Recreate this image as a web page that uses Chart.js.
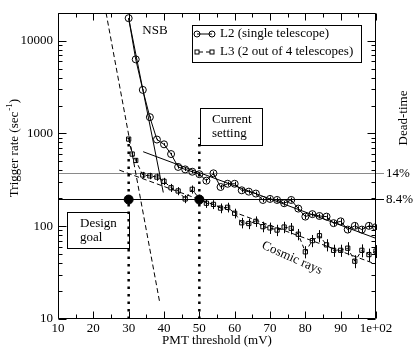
<!DOCTYPE html>
<html><head><meta charset="utf-8">
<script src="https://cdn.jsdelivr.net/npm/chart.js@4.4.0/dist/chart.umd.min.js"></script>
<style>html,body{margin:0;padding:0;background:#fff;}canvas{display:block;}</style>
</head><body>
<canvas id="c" width="415" height="350"></canvas>
<script>
// ---- data ----
const l2X = [30,32,34,36,38,40,42,44,46,48,50,52,54,56,58,60,62,64,66,68,70,72,74,76,78,80,82,84,86,88,90,92,94,96,98,100];
const l2Y = [17500,6300,2950,1500,860,764,600,436,410,387,364,310,372,265,287,287,244,236,225,192,197,192,177,192,155,127,135,129,127,108,113,92,101,92,101,98];
const l2Err = [0.01,0.01,0.01,0.02,0.02,0.03,0.03,0.04,0.04,0.04,0.04,0.05,0.05,0.05,0.05,0.05,0.05,0.05,0.05,0.05,0.06,0.06,0.06,0.06,0.06,0.06,0.06,0.06,0.06,0.07,0.07,0.07,0.07,0.07,0.07,0.07];
const l3X = [30,31,32,34,36,38,40,42,44,46,48,50,52,54,56,58,60,62,64,66,68,70,72,74,76,78,80,82,84,86,88,90,92,94,96,98,100];
const l3Y = [870,600,512,357,349,339,305,260,240,197,250,197,177,172,157,160,138,109,107,113,99,96,91,98,95,82,53,70,79,63,55,55,58,42,55,49.5,54];
const l3Err = [0.05,0.06,0.06,0.08,0.08,0.09,0.09,0.1,0.1,0.1,0.1,0.11,0.11,0.11,0.12,0.12,0.12,0.13,0.13,0.13,0.13,0.14,0.14,0.14,0.14,0.14,0.15,0.15,0.15,0.15,0.15,0.15,0.16,0.16,0.16,0.16,0.16];
const nsbFitL2X = [30, 39.8];
const nsbFitL2Y = [17500, 231];
const nsbFitL3X = [23.6, 38.7];
const nsbFitL3Y = [20000, 15.7];
const crFitL2X = [34.1, 100];
const crFitL2Y = [636, 74];
const crFitL3X = [27.35, 100];
const crFitL3Y = [403, 39];
const markX = [30, 50];          // design goal, current setting
const markY = [194, 194];
const markTopY = 900;            // top of the dotted guide lines
const deadVals = [371, 194];
const deadLabels = ['14%', '8.4%'];
const xTickVals = [10,20,30,40,50,60,70,80,90,100];
const xTickLabels = ['10','20','30','40','50','60','70','80','90','1e+02'];
const yTickVals = [10,100,1000,10000];
const yTickLabels = ['10','100','1000','10000'];

const FONT = "'Liberation Serif','Times New Roman',serif";
const FS = 13;
const pts = (xs, ys) => xs.map((x,i)=>({x:x, y:ys[i]}));

const decor = {
  id:'decor',
  beforeDraw(chart){
    const c=chart.ctx; c.save(); c.fillStyle='#fff'; c.fillRect(0,0,chart.width,chart.height); c.restore();
  },
  afterDatasetsDraw(chart){
    const c=chart.ctx, ys=chart.scales.y;
    c.save(); c.strokeStyle='#000'; c.lineWidth=1;
    [[0,l2Y,l2Err],[1,l3Y,l3Err]].forEach(([di,vals,errs])=>{
      const meta=chart.getDatasetMeta(di);
      meta.data.forEach((p,i)=>{
        const v=vals[i], e=errs[i];
        const top=ys.getPixelForValue(v*(1+e)), bot=ys.getPixelForValue(v*(1-e));
        const px=Math.round(p.x)+0.5;
        c.beginPath(); c.moveTo(px,top); c.lineTo(px,bot); c.stroke();
      });
    });
    c.restore();
  },
  afterDraw(chart){
    const c=chart.ctx, a=chart.chartArea, x=chart.scales.x, y=chart.scales.y;
    c.save();
    c.strokeStyle='#000'; c.lineWidth=1;
    const L=Math.round(a.left)+0.5, R=Math.round(a.right)-0.5, T=Math.round(a.top)+0.5, B=Math.round(a.bottom)-0.5;
    c.beginPath(); c.rect(L,T,R-L,B-T); c.stroke();
    c.beginPath();
    for(let v=10; v<=100; v+=5){
      const px=Math.round(x.getPixelForValue(v))+0.5, len=(v%10===0)?7:4;
      c.moveTo(px,B); c.lineTo(px,B-len); c.moveTo(px,T); c.lineTo(px,T+len);
    }
    for(let d=10; d<=10000; d*=10){
      for(let k=1;k<=9;k++){
        const v=d*k; if(v>y.max) break;
        const py=Math.round(y.getPixelForValue(v))+0.5, len=(k===1)?8:4;
        c.moveTo(L,py); c.lineTo(L+len,py); c.moveTo(R,py); c.lineTo(R-len,py);
      }
    }
    c.stroke();
    c.fillStyle='#000'; c.font=FS+'px '+FONT; c.textBaseline='middle';
    c.textAlign='center'; c.fillText('NSB',155,31);
    // legend
    c.strokeRect(192.5,25.5,169,37);
    c.textAlign='left';
    c.beginPath(); c.moveTo(197,34); c.lineTo(212,34); c.stroke();
    [197,212].forEach(cx=>{c.beginPath(); c.arc(cx,34,3,0,Math.PI*2); c.stroke();});
    c.fillText('L2 (single telescope)',220,34);
    c.setLineDash([4,3]); c.beginPath(); c.moveTo(199,52); c.lineTo(210,52); c.stroke(); c.setLineDash([]);
    [197,212].forEach(cx=>{c.strokeRect(cx-2,52-2,4,4);});
    c.fillText('L3 (2 out of 4 telescopes)',220,52);
    // Current setting box
    c.strokeRect(200.5,108.5,62,37);
    c.fillText('Current',212,120); c.fillText('setting',212,134);
    // Design goal box
    c.strokeRect(67.5,212.5,62,36);
    c.fillText('Design',80,224); c.fillText('goal',80,238);
    // Cosmic rays
    c.save(); c.translate(292,258); c.rotate(24*Math.PI/180); c.textAlign='center'; c.fillText('Cosmic rays',0,0); c.restore();
    // Dead-time
    c.save(); c.translate(404,118); c.rotate(-Math.PI/2); c.textAlign='center'; c.fillText('Dead-time',0,0); c.restore();
    // y title with superscript
    c.save(); c.translate(15,148); c.rotate(-Math.PI/2);
    const t1='Trigger rate (sec', t2='-1', t3=')';
    c.font=FS+'px '+FONT; const w1=c.measureText(t1).width, w3=c.measureText(t3).width;
    c.font=(FS*0.7)+'px '+FONT; const w2=c.measureText(t2).width;
    let sx=-(w1+w2+w3+1)/2; c.textAlign='left';
    c.font=FS+'px '+FONT; c.fillText(t1,sx,0);
    c.font=(FS*0.7)+'px '+FONT; c.fillText(t2,sx+w1+1,-5);
    c.font=FS+'px '+FONT; c.fillText(t3,sx+w1+w2+1,0);
    c.restore();
    c.restore();
  }
};

new Chart(document.getElementById('c'), {
  type:'line',
  data:{ datasets:[
    {label:'L2 (single telescope)', data:pts(l2X,l2Y), borderColor:'#000', borderWidth:1, pointStyle:'circle', pointRadius:3.5, pointBorderWidth:1, pointBorderColor:'#000', pointBackgroundColor:'rgba(0,0,0,0)', tension:0},
    {label:'L3 (2 out of 4 telescopes)', data:pts(l3X,l3Y), borderColor:'#000', borderWidth:1, borderDash:[4,3], pointStyle:'rect', pointRadius:3, pointBorderWidth:1, pointBorderColor:'#000', pointBackgroundColor:'rgba(0,0,0,0)', tension:0},
    {data:pts(nsbFitL2X,nsbFitL2Y), borderColor:'#000', borderWidth:1, pointRadius:0},
    {data:pts(nsbFitL3X,nsbFitL3Y), borderColor:'#000', borderWidth:1, borderDash:[5,3], pointRadius:0},
    {data:pts(crFitL2X,crFitL2Y), borderColor:'#000', borderWidth:1, pointRadius:0},
    {data:pts(crFitL3X,crFitL3Y), borderColor:'#000', borderWidth:1, borderDash:[5,3], pointRadius:0},
    {data:[{x:markX[0],y:10},{x:markX[0],y:markTopY}], borderColor:'#000', borderWidth:2.5, borderDash:[2.5,5], pointRadius:0},
    {data:[{x:markX[1],y:10},{x:markX[1],y:markTopY}], borderColor:'#000', borderWidth:2.5, borderDash:[2.5,5], pointRadius:0},
    {data:pts(markX,markY), showLine:false, pointRadius:4.5, pointBackgroundColor:'#000', pointBorderColor:'#000'}
  ]},
  options:{
    responsive:false, animation:false, devicePixelRatio:1,
    layout:{padding:{top:2,left:0,right:0,bottom:0}},
    plugins:{legend:{display:false}, tooltip:{enabled:false}},
    scales:{
      x:{type:'linear', position:'bottom', min:10, max:100,
        afterBuildTicks:s=>{s.ticks=xTickVals.map(v=>({value:v}));},
        afterFit:s=>{s.height=31;},
        grid:{display:false, drawTicks:false}, border:{display:false},
        ticks:{padding:2, maxRotation:0, autoSkip:false, color:'#000', font:{family:FONT,size:FS}, callback:(v,i)=>xTickLabels[i]},
        title:{display:true, text:'PMT threshold (mV)', color:'#000', font:{family:FONT,size:FS}, padding:{top:0,bottom:2}}},
      y:{type:'logarithmic', position:'left', min:10, max:20000,
        afterBuildTicks:s=>{s.ticks=yTickVals.map(v=>({value:v}));},
        afterFit:s=>{s.width=58;},
        grid:{display:false, drawTicks:false}, border:{display:false},
        ticks:{padding:5, autoSkip:false, color:'#000', font:{family:FONT,size:FS}, callback:(v,i)=>yTickLabels[i]}},
      y2:{type:'logarithmic', position:'right', min:10, max:20000,
        afterBuildTicks:s=>{s.ticks=deadVals.map(v=>({value:v}));},
        afterFit:s=>{s.width=39;},
        grid:{display:true, drawOnChartArea:true, drawTicks:true, tickLength:8,
          color:c=>c.index===0?'#8a8a8a':'#000', tickColor:c=>c.index===0?'#8a8a8a':'#000', lineWidth:1},
        border:{display:false},
        ticks:{padding:2, autoSkip:false, color:'#000', font:{family:FONT,size:FS}, callback:(v,i)=>deadLabels[i]}}
    }
  },
  plugins:[decor]
});
</script>
</body></html>
